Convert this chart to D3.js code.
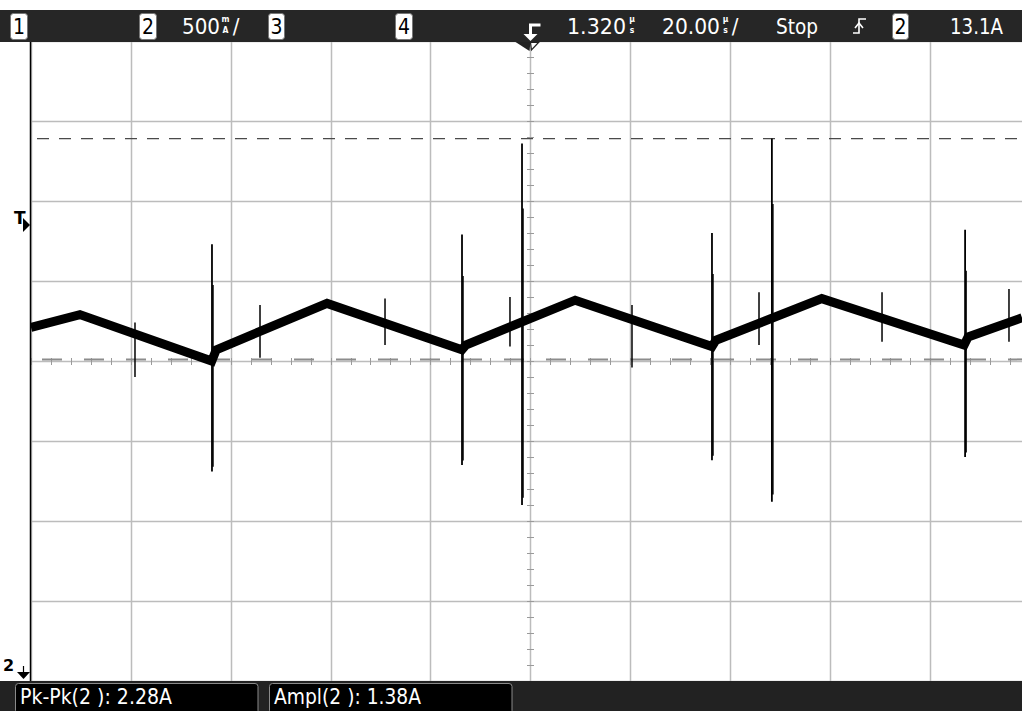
<!DOCTYPE html>
<html><head><meta charset="utf-8">
<script src="https://cdn.jsdelivr.net/npm/d3@7"></script>
<style>
html,body{margin:0;padding:0;background:#fff;}
svg{display:block;}
text{font-family:"Liberation Sans Narrow","DejaVu Sans Condensed","Liberation Sans",sans-serif;}
</style></head>
<body>
<svg id="c" width="1022" height="711"></svg>
<script>
// ---- data ----
const traceTime = [0, 9.8, 36.2, 37.1, 59.3, 86.3, 87.1, 109.0, 136.4, 137.2, 158.4, 186.9, 187.7, 198.5]; // µs
const traceAmps = [2.21, 2.29, 2.00, 2.07, 2.36, 2.07, 2.10, 2.38, 2.09, 2.13, 2.39, 2.10, 2.15, 2.27]; // A
const spikeTime = [36.25, 86.33, 136.4, 187.1, 98.35, 148.4, 20.83, 45.87, 70.91, 95.94, 120.38, 145.82, 170.46, 195.89];
const spikeHigh = [2.73, 2.79, 2.80, 2.82, 3.36, 3.39, 2.24, 2.35, 2.39, 2.40, 2.35, 2.43, 2.43, 2.45];
const spikeLow  = [1.31, 1.35, 1.38, 1.40, 1.10, 1.12, 1.90, 2.02, 2.10, 2.09, 1.96, 2.10, 2.12, 2.12];
const spikeBig  = [1, 1, 1, 1, 1, 1, 0, 0, 0, 0, 0, 0, 0, 0];
const cursorLevels = [3.39, 2.01];
const timeDivs = d3.range(0, 201, 20);
const ampDivs = d3.range(0, 4.01, 0.5);
const headerItems = [
  {t:"1", box:true, x0:10, x1:27},
  {t:"2", box:true, x0:139, x1:156},
  {t:"500", x0:182, x1:220},
  {t:"3", box:true, x0:268, x1:284},
  {t:"4", box:true, x0:395, x1:412},
  {t:"1.320", x0:567, x1:626},
  {t:"20.00", x0:662, x1:720},
  {t:"Stop", x0:776, x1:818},
  {t:"2", box:true, x0:892, x1:908},
  {t:"13.1A", x0:950, x1:1003}
];
const stackedUnits = [
  {top:"m", bot:"A", x:225.5},
  {top:"µ", bot:"s", x:632},
  {top:"µ", bot:"s", x:725.5}
];
const slashes = [236, 735];
const measurements = [
  {t:"Pk-Pk(2 ): 2.28A", bx0:15.5, bx1:258, tx0:20, tx1:172},
  {t:"Ampl(2 ): 1.38A", bx0:269.5, bx1:512, tx0:274, tx1:421}
];

// ---- scales ----
const W = 1022, H = 711;
const x = d3.scaleLinear().domain([0, 200]).range([31, 31 + 99.85 * 10]);
const y = d3.scaleLinear().domain([0, 4]).range([681, 41]);
const svg = d3.select("#c");

svg.append("defs").append("clipPath").attr("id", "plot")
  .append("rect").attr("x", 31).attr("y", 42).attr("width", W - 31).attr("height", 681 - 42);

const g = svg.append("g").attr("clip-path", "url(#plot)");
const gridCol = "#bcbcbc";

// grid
g.selectAll(".vg").data(timeDivs).join("line")
  .attr("x1", d => Math.round(x(d)) + 0.5).attr("x2", d => Math.round(x(d)) + 0.5)
  .attr("y1", 42).attr("y2", 681).attr("stroke", gridCol).attr("stroke-width", 1.5);
g.selectAll(".hg").data(ampDivs).join("line")
  .attr("y1", d => Math.round(y(d)) + 0.5).attr("y2", d => Math.round(y(d)) + 0.5)
  .attr("x1", 31).attr("x2", W).attr("stroke", gridCol).attr("stroke-width", 1.5);

// minor ticks on centre axes
const xc = Math.round(x(100)) + 0.5, yc = Math.round(y(2)) + 0.5;
g.selectAll(".xt").data(d3.range(0, 201, 4)).join("line")
  .attr("x1", d => Math.round(x(d)) + 0.5).attr("x2", d => Math.round(x(d)) + 0.5)
  .attr("y1", yc - 3.5).attr("y2", yc + 3.5).attr("stroke", "#9a9a9a").attr("stroke-width", 1);
g.selectAll(".yt").data(d3.range(0, 4.01, 0.1)).join("line")
  .attr("y1", d => Math.round(y(d)) + 0.5).attr("y2", d => Math.round(y(d)) + 0.5)
  .attr("x1", xc - 3.5).attr("x2", xc + 3.5).attr("stroke", "#9a9a9a").attr("stroke-width", 1);

// cursors
g.append("line").attr("x1", 37).attr("x2", W).attr("y1", y(cursorLevels[0])).attr("y2", y(cursorLevels[0]))
  .attr("stroke", "#4a4a4a").attr("stroke-width", 1.4).attr("stroke-dasharray", "12,10");
g.append("line").attr("x1", 42).attr("x2", W).attr("y1", y(cursorLevels[1])).attr("y2", y(cursorLevels[1]))
  .attr("stroke", "#8c8c8c").attr("stroke-width", 2).attr("stroke-dasharray", "20,22");

// trace
const pts = traceTime.map((t, i) => [x(t), y(traceAmps[i])]);
g.append("path").attr("d", d3.line()(pts)).attr("fill", "none")
  .attr("stroke", "#000").attr("stroke-width", 9).attr("stroke-linejoin", "miter");

// spikes
spikeTime.forEach((t, i) => {
  g.append("line").attr("x1", x(t)).attr("x2", x(t)).attr("y1", y(spikeHigh[i])).attr("y2", y(spikeLow[i]))
    .attr("stroke", "#000").attr("stroke-width", spikeBig[i] ? 1.8 : 1.5);
  if (spikeBig[i]) {
    const mid = d3.interpolateNumber(spikeHigh[i], spikeLow[i]);
    g.append("line").attr("x1", x(t) + 1).attr("x2", x(t) + 1).attr("y1", y(mid(0.18))).attr("y2", y(mid(0.98)))
      .attr("stroke", "#000").attr("stroke-width", 1.5);
  }
});

// left border
svg.append("line").attr("x1", 30.5).attr("x2", 30.5).attr("y1", 42).attr("y2", 681).attr("stroke", "#000").attr("stroke-width", 1.5);

// header bar
svg.append("rect").attr("x", 0).attr("y", 10).attr("width", W).attr("height", 32).attr("fill", "#262626");
headerItems.forEach(d => {
  if (d.box) {
    svg.append("rect").attr("x", d.x0 + 0.5).attr("y", 13.5).attr("width", d.x1 - d.x0).attr("height", 26)
      .attr("rx", 3).attr("fill", "#fff").attr("stroke", "#777").attr("stroke-width", 1);
    svg.append("text").attr("x", (d.x0 + d.x1) / 2 + 0.5).attr("y", 34).attr("text-anchor", "middle")
      .attr("font-size", 21).attr("fill", "#000").text(d.t);
  } else {
    svg.append("text").attr("x", d.x0).attr("y", 34).attr("font-size", 22).attr("fill", "#fff")
      .attr("textLength", d.x1 - d.x0).attr("lengthAdjust", "spacingAndGlyphs").text(d.t);
  }
});
stackedUnits.forEach(d => {
  svg.append("text").attr("x", d.x).attr("y", 22).attr("text-anchor", "middle").attr("font-size", 8.5).attr("font-weight", "bold").attr("fill", "#fff").text(d.top);
  svg.append("text").attr("x", d.x).attr("y", 33).attr("text-anchor", "middle").attr("font-size", 8.5).attr("font-weight", "bold").attr("fill", "#fff").text(d.bot);
});
slashes.forEach(sx => {
  svg.append("text").attr("x", sx).attr("y", 34).attr("text-anchor", "middle").attr("font-size", 22).attr("fill", "#fff").text("/");
});
// trigger glyph in header
svg.append("path").attr("d", `M${xc + 10},25 H${xc} V36`).attr("fill", "none").attr("stroke", "#fff").attr("stroke-width", 3);
svg.append("path").attr("d", `M${xc - 7},34 H${xc + 7} L${xc},41 Z`).attr("fill", "#fff");
// edge glyph
svg.append("path").attr("d", "M853,33 H859 V19 H866").attr("fill", "none").attr("stroke", "#fff").attr("stroke-width", 1.6);
svg.append("path").attr("d", "M855,28 L859,23 L863,28").attr("fill", "none").attr("stroke", "#fff").attr("stroke-width", 1.6);

// trigger position marker below header
svg.append("path").attr("d", `M${xc - 15},42 H${xc} L${xc - 1},51 Z`).attr("fill", "#222");
svg.append("path").attr("d", `M${xc},42.5 H${xc + 8} L${xc + 1},50 Z`).attr("fill", "#fff").attr("stroke", "#222").attr("stroke-width", 1.2);

// trigger level marker "T"
const yT = y(2.85);
svg.append("text").attr("x", 14).attr("y", yT - 1).style("font-size", "17px").style("font-weight", "bold").style("font-family", "'DejaVu Sans', sans-serif").attr("fill", "#000").text("T");
svg.append("path").attr("d", `M23,${yT - 7} L30,${yT} L23,${yT + 7} Z`).attr("fill", "#000");

// channel 2 ground marker
svg.append("text").attr("x", 3).attr("y", 671).style("font-size", "16px").style("font-weight", "bold").style("font-family", "'DejaVu Sans', sans-serif").attr("fill", "#000").text("2");
svg.append("line").attr("x1", 23.5).attr("x2", 23.5).attr("y1", 666).attr("y2", 673).attr("stroke", "#000").attr("stroke-width", 1.2);
svg.append("path").attr("d", `M17,${672} H30 L23.5,${y(0) - 2} Z`).attr("fill", "#000");

// bottom bar
svg.append("rect").attr("x", 0).attr("y", 681).attr("width", W).attr("height", 30).attr("fill", "#222");
measurements.forEach(d => {
  svg.append("rect").attr("x", d.bx0).attr("y", 683.5).attr("width", d.bx1 - d.bx0).attr("height", 30)
    .attr("rx", 3).attr("fill", "#000").attr("stroke", "#8a8a8a").attr("stroke-width", 1);
  svg.append("text").attr("x", d.tx0).attr("y", 704).attr("font-size", 21).attr("fill", "#fff")
    .attr("textLength", d.tx1 - d.tx0).attr("lengthAdjust", "spacingAndGlyphs").text(d.t);
});
</script>
</body></html>
